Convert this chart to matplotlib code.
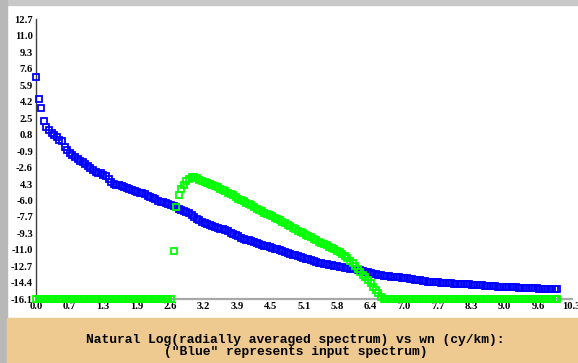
import numpy as np
import matplotlib.pyplot as plt
from matplotlib.patches import Rectangle

# wavenumber grid (cy/km), one sample every 0.05
wn = np.arange(202) * 0.05

# ln(radially averaged spectrum) - input (blue)
blue = [
    6.73, 4.50, 3.60, 2.20, 1.60, 1.31, 1.05, 0.85, 0.55, 0.27,
    0.15, -0.45, -0.79, -1.02, -1.29, -1.50, -1.67, -1.86, -2.02, -2.21,
    -2.42, -2.64, -2.84, -2.97, -3.06, -3.16, -3.28, -3.45, -3.68, -4.03,
    -4.25, -4.32, -4.38, -4.44, -4.55, -4.65, -4.76, -4.86, -4.92, -5.02,
    -5.12, -5.18, -5.32, -5.46, -5.60, -5.71, -5.82, -5.94, -6.05, -6.13,
    -6.22, -6.33, -6.40, -6.52, -6.63, -6.78, -6.92, -7.02, -7.12, -7.25,
    -7.48, -7.68, -7.82, -7.98, -8.12, -8.25, -8.38, -8.50, -8.60, -8.68,
    -8.77, -8.84, -8.91, -8.97, -9.10, -9.25, -9.38, -9.50, -9.63, -9.76,
    -9.87, -9.96, -10.05, -10.13, -10.22, -10.32, -10.41, -10.49, -10.57, -10.65,
    -10.73, -10.81, -10.89, -10.97, -11.05, -11.14, -11.23, -11.32, -11.41, -11.50,
    -11.59, -11.68, -11.76, -11.84, -11.92, -12.00, -12.08, -12.16, -12.24, -12.33,
    -12.39, -12.44, -12.50, -12.55, -12.60, -12.65, -12.70, -12.76, -12.81, -12.86,
    -12.90, -12.94, -12.98, -13.03, -13.07, -13.13, -13.19, -13.26, -13.33, -13.40,
    -13.47, -13.53, -13.58, -13.63, -13.66, -13.70, -13.73, -13.76, -13.79, -13.82,
    -13.84, -13.88, -13.92, -13.96, -14.00, -14.04, -14.08, -14.12, -14.15, -14.19,
    -14.23, -14.27, -14.30, -14.32, -14.35, -14.37, -14.39, -14.41, -14.43, -14.46,
    -14.47, -14.48, -14.50, -14.51, -14.52, -14.53, -14.55, -14.56, -14.58, -14.60,
    -14.63, -14.65, -14.67, -14.69, -14.71, -14.73, -14.75, -14.77, -14.79, -14.80,
    -14.82, -14.84, -14.86, -14.87, -14.88, -14.88, -14.89, -14.89, -14.90, -14.90,
    -14.91, -14.93, -14.95, -14.97, -14.99, -15.00, -15.02, -15.03, -15.05, -15.06,
    -15.07, -15.08,
]

# filtered spectrum (green), floor value -16.1 outside the band
green_band = [
    -11.10, -6.64, -5.40, -4.78, -4.36, -3.93, -3.68, -3.52, -3.52, -3.65,
    -3.78, -3.91, -4.06, -4.16, -4.26, -4.34, -4.46, -4.59, -4.74, -4.88,
    -5.00, -5.12, -5.27, -5.42, -5.62, -5.80, -5.92, -6.04, -6.16, -6.29,
    -6.45, -6.62, -6.78, -6.92, -7.06, -7.19, -7.32, -7.45, -7.58, -7.72,
    -7.85, -7.99, -8.14, -8.29, -8.43, -8.58, -8.73, -8.88, -9.03, -9.16,
    -9.30, -9.44, -9.58, -9.72, -9.87, -10.01, -10.16, -10.30, -10.43, -10.56,
    -10.69, -10.82, -10.95, -11.09, -11.24, -11.46, -11.68, -11.90, -12.13, -12.40,
    -12.67, -12.98, -13.30, -13.55, -13.80, -14.10, -14.42, -14.80, -15.14, -15.50,
    -15.85,
]
green = [-16.1] * 53 + green_band + [-16.1] * 68

xticklabels = ["0.0", "0.7", "1.3", "1.9", "2.6", "3.2", "3.9", "4.5", "5.1",
               "5.8", "6.4", "7.0", "7.7", "8.3", "9.0", "9.6", "10.3"]
yticklabels = ["12.7", "11.0", "9.3", "7.6", "5.9", "4.2", "2.5", "0.8", "-0.9",
               "-2.6", "4.3", "-6.0", "-7.7", "-9.3", "-11.0", "-12.7", "-14.4", "-16.1"]

W, H = 578, 363
fig = plt.figure(figsize=(W / 100, H / 100), dpi=100, facecolor="white")

# frame: grey strips and tan caption panel
fig.patches.append(Rectangle((0, 1 - 5 / H), 1, 5 / H, transform=fig.transFigure, color="#c8c8c8", zorder=-1))
fig.patches.append(Rectangle((0, 0), 7 / W, 1, transform=fig.transFigure, color="#b8b8b8", zorder=-1))
fig.patches.append(Rectangle((7 / W, 0), 1, 45 / H, transform=fig.transFigure, color="#eec990", zorder=-1))

ax = fig.add_axes([36 / W, (H - 299.3) / H, 535.5 / W, 280 / H])
ax.set_zorder(2)
ax.set_facecolor("none")
xmax = 10.32
ax.set_xlim(0, xmax)
ax.set_ylim(-16.1, 12.7)

ax.plot(wn, blue, ls="none", marker="s", ms=3.9, mew=1.3, mec="#0000ff", mfc="none",
        clip_on=False, zorder=3)
ax.plot(wn, green, ls="none", marker="s", ms=3.9, mew=1.3, mec="#00ff00", mfc="none",
        clip_on=False, zorder=4)

ax.set_xticks(np.linspace(0, xmax, 17))
ax.set_xticklabels(xticklabels)
ax.set_yticks(np.linspace(12.7, -16.1, 18))
ax.set_yticklabels(yticklabels)
tick_font = dict(family="Liberation Serif", weight="bold", size=7.6)
for lab in ax.get_xticklabels() + ax.get_yticklabels():
    lab.set_fontproperties(tick_font)
ax.tick_params(axis="both", length=0)
ax.tick_params(axis="y", pad=2.2)
ax.tick_params(axis="x", pad=2.0)

for s in ("top", "right"):
    ax.spines[s].set_visible(False)
ax.spines["left"].set_color("#404040")
ax.spines["left"].set_linewidth(1.0)
ax.spines["bottom"].set_color("#a8a8a8")
ax.spines["bottom"].set_linewidth(1.6)

fig.text(295 / W, 1 - 339.5 / H, "Natural Log(radially averaged spectrum) vs wn (cy/km):",
         ha="center", va="center", family="Liberation Mono", weight="bold", size=9.4)
fig.text(295.5 / W, 1 - 352.5 / H, '("Blue" represents input spectrum)',
         ha="center", va="center", family="Liberation Mono", weight="bold", size=9.4)

fig.savefig("out.png", dpi=100)
